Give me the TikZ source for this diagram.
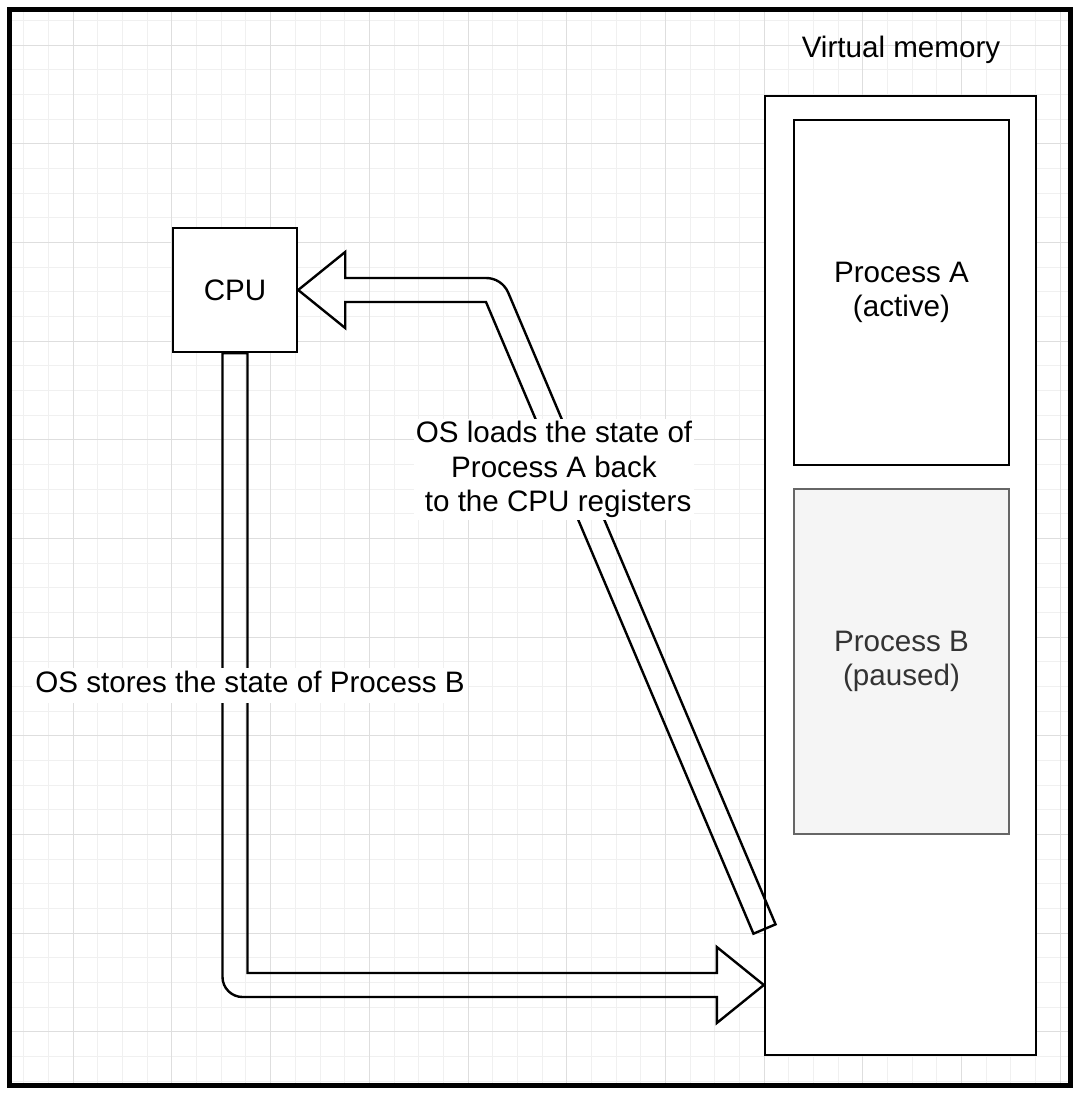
\documentclass[tikz,border=0pt]{standalone}
\usepackage{fontspec}
\setmainfont{Liberation Sans}
\usetikzlibrary{calc}

\definecolor{gridminor}{HTML}{F0F0F0}
\definecolor{gridmajor}{HTML}{DEDEDE}
\definecolor{pausedfill}{HTML}{F5F5F5}
\definecolor{pausedline}{HTML}{666666}
\definecolor{pausedtext}{HTML}{333333}

\begin{document}
\begin{tikzpicture}[x=1pt,y=-1pt,
  font=\fontsize{29.6pt}{34.5pt}\selectfont,
  box/.style={draw, line width=2.4pt, fill=white, align=center, inner sep=0pt},
  flexarrow/.style={draw, line width=2.4pt, line join=miter},
  lbl/.style={fill=white, inner sep=2pt, align=center},
  minorline/.style={draw=gridminor, line width=1pt},
  majorline/.style={draw=gridmajor, line width=1pt}]
 \useasboundingbox (0,0) rectangle (1083,1095);

 % background grid
 \begin{scope}
  \clip (9.5,9.5) rectangle (1070.5,1085.5);
  \foreach \i in {-2,...,40} \draw[minorline] ({73.3+24.67*\i},0) -- ++(0,1095);
  \foreach \j in {-1,...,42} \draw[minorline] (0,{45+24.67*\j}) -- ++(1083,0);
  \foreach \i in {0,...,10} \draw[majorline] ({73.3+98.68*\i},0) -- ++(0,1095);
  \foreach \j in {0,...,10} \draw[majorline] (0,{45+98.68*\j}) -- ++(1083,0);
 \end{scope}
 \draw[line width=5pt] (9.5,9.5) rectangle (1070.5,1085.5);

 \node[box, minimum width=271pt, minimum height=959pt] (vm) at (900.5,575.5) {};
 \node[anchor=base] (vmtitle) at (901,57) {Virtual memory};
 \node[box, minimum width=215pt, minimum height=345pt] (procA) at (901.5,292.5) {Process A\\(active)};
 \node[box, minimum width=215pt, minimum height=345pt, fill=pausedfill, draw=pausedline, text=pausedtext] (procB) at (901.5,661.5) {Process B\\(paused)};
 \node[box, minimum size=124pt] (cpu) at (235,290) {CPU};

 \coordinate (storesTip) at (vm.west |- 0,985);
 \coordinate (loadsEnd) at (764.5,929);
 \coordinate (loadsBend) at (494,290);

 % CPU -> memory
 \draw[flexarrow] ($(cpu.south)+(-12.5,0)$) -- (222.5,977) .. controls (222.5,988) and (231.5,997) .. (242.5,997)
   -- ($(storesTip)+(-47,12)$) -- ++(0,26) -- (storesTip) -- ++(-47,-38) -- ++(0,26)
   -| ($(cpu.south)+(12.5,0)$) -- cycle;

 % memory -> CPU
 \draw[flexarrow] (cpu.east) -- ++(47,-38) -- ++(0,26) -- (486.1,278) .. controls (495.7,278) and (504.4,283.7) .. (508.2,292.6)
   -- ($(loadsEnd)!12pt!-90:(loadsBend)$) -- ($(loadsEnd)!12pt!90:(loadsBend)$) -- (486,302)
   -- ($(cpu.east)+(47,12)$) -- ++(0,26) -- cycle;

 \node[lbl, inner sep=3pt, text height=22pt, text depth=7pt] (storesLabel) at (250,685) {OS stores the state of Process B};
 \node[lbl] (loadsLabel) at (554,469.5) {OS loads the state of\\Process A back\\\ to the CPU registers};

\end{tikzpicture}
\end{document}
